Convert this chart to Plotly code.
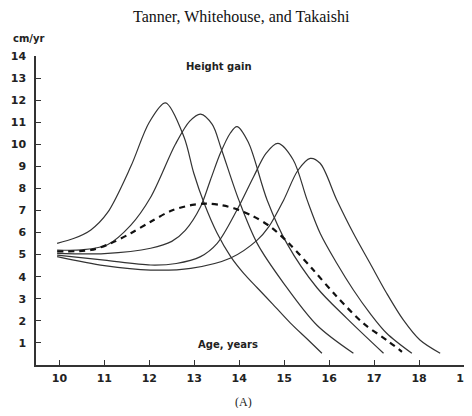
import plotly.graph_objects as go

# Age (years) and height gain (cm/yr)
c1_age = [9.95, 10.33, 10.70, 11.07, 11.59, 12.0, 12.36, 12.77, 12.99, 13.22, 13.51, 13.81, 14.1, 14.40, 14.75, 15.14, 15.5, 15.84]
c1_gain = [5.51, 5.74, 6.12, 6.9, 9.0, 11.0, 11.88, 10.34, 8.69, 7.33, 5.97, 4.91, 4.15, 3.5, 2.75, 1.9, 1.2, 0.53]

c2_age = [9.95, 10.5, 11.07, 11.59, 12.03, 12.58, 12.9, 13.14, 13.4, 13.6, 13.99, 14.40, 14.99, 15.73, 16.54]
c2_gain = [5.21, 5.22, 5.45, 6.34, 7.6, 10.0, 11.05, 11.37, 10.9, 9.8, 7.48, 5.51, 3.70, 1.80, 0.53]

c3_age = [9.95, 11.0, 12.03, 12.5, 12.8, 13.14, 13.36, 13.58, 13.8, 13.95, 14.2, 14.62, 15.06, 15.73, 16.40, 17.21]
c3_gain = [5.06, 5.05, 5.29, 5.6, 6.1, 7.17, 8.38, 9.59, 10.5, 10.80, 10.1, 7.48, 5.51, 3.5, 2.1, 0.53]

c4_age = [9.95, 11.0, 12.03, 12.6, 13.14, 13.51, 13.95, 14.32, 14.6, 14.86, 15.2, 15.51, 15.80, 16.17, 16.54, 16.91, 17.28, 17.84]
c4_gain = [4.98, 4.75, 4.53, 4.6, 4.91, 5.51, 7.02, 8.53, 9.6, 10.04, 9.3, 7.48, 5.97, 4.61, 3.40, 2.34, 1.44, 0.53]

c5_age = [9.95, 11.0, 12.03, 12.92, 13.81, 14.40, 14.66, 14.99, 15.3, 15.58, 15.80, 16.17, 16.54, 16.91, 17.28, 17.65, 18.02, 18.47]
c5_gain = [4.91, 4.5, 4.30, 4.38, 4.85, 5.66, 6.27, 7.48, 8.8, 9.36, 9.14, 7.48, 5.97, 4.61, 3.25, 2.04, 1.13, 0.53]

mean_age = [9.95, 10.70, 11.14, 11.59, 12.03, 12.5, 13.0, 13.3, 13.6, 13.88, 14.3, 14.69, 15.14, 15.65, 16.17, 16.76, 17.28, 17.62]
mean_gain = [5.15, 5.21, 5.51, 5.97, 6.49, 7.0, 7.27, 7.31, 7.24, 7.10, 6.75, 6.27, 5.44, 4.30, 3.10, 1.89, 1.13, 0.6]

x_ticks = [10, 11, 12, 13, 14, 15, 16, 17, 18, 19]
y_ticks = [1, 2, 3, 4, 5, 6, 7, 8, 9, 10, 11, 12, 13, 14]

fig = go.Figure()
for ax, ay in [(c1_age, c1_gain), (c2_age, c2_gain), (c3_age, c3_gain), (c4_age, c4_gain), (c5_age, c5_gain)]:
    fig.add_trace(go.Scatter(x=ax, y=ay, mode="lines",
                             line=dict(color="#333333", width=1.2, shape="spline", smoothing=0.9),
                             showlegend=False, hoverinfo="skip", cliponaxis=False))
fig.add_trace(go.Scatter(x=mean_age, y=mean_gain, mode="lines",
                         line=dict(color="#111111", width=2.2, dash="6px,5px", shape="spline", smoothing=0.9),
                         showlegend=False, hoverinfo="skip", cliponaxis=False))

tick_font = dict(family="DejaVu Sans", size=11, color="#222222", weight="bold")
ann_font = dict(family="DejaVu Sans", size=10, color="#222", weight="bold")
fig.update_layout(
    width=464, height=400,
    margin=dict(l=27.5, r=8, t=48, b=43, autoexpand=False),
    paper_bgcolor="white", plot_bgcolor="white",
    xaxis=dict(range=[9.48, 19.0], tickvals=x_ticks, ticks="inside", ticklen=5, tickwidth=1.2,
               tickcolor="#333", showline=True, linecolor="#333", linewidth=1.5, automargin=False,
               showgrid=False, zeroline=False, tickfont=tick_font, ticklabelstandoff=2,
               ticklabeloverflow="allow"),
    yaxis=dict(range=[0, 14], tickvals=y_ticks, ticks="inside", ticklen=5, tickwidth=1.2,
               tickcolor="#333", showline=True, linecolor="#333", linewidth=1.5, automargin=False,
               showgrid=False, zeroline=False, tickfont=tick_font, ticklabelstandoff=6,
               ticklabeloverflow="allow"),
    annotations=[
        dict(text="Tanner, Whitehouse, and Takaishi", xref="x", yref="paper", x=14.05, y=1.127,
             xanchor="center", yanchor="middle", showarrow=False,
             font=dict(family="Liberation Serif", size=16, color="#111")),
        dict(text="cm/yr", xref="paper", yref="paper", x=-0.016, y=1.058,
             xanchor="center", yanchor="middle", showarrow=False, font=ann_font),
        dict(text="Height gain", xref="x", yref="y", x=13.56, y=13.52,
             xanchor="center", yanchor="middle", showarrow=False, font=ann_font),
        dict(text="Age, years", xref="x", yref="y", x=13.76, y=0.91,
             xanchor="center", yanchor="middle", showarrow=False, font=ann_font),
        dict(text="(A)", xref="x", yref="paper", x=14.1, y=-0.119,
             xanchor="center", yanchor="middle", showarrow=False,
             font=dict(family="Liberation Serif", size=12, color="#222")),
    ],
)
fig.write_html("out.html")
